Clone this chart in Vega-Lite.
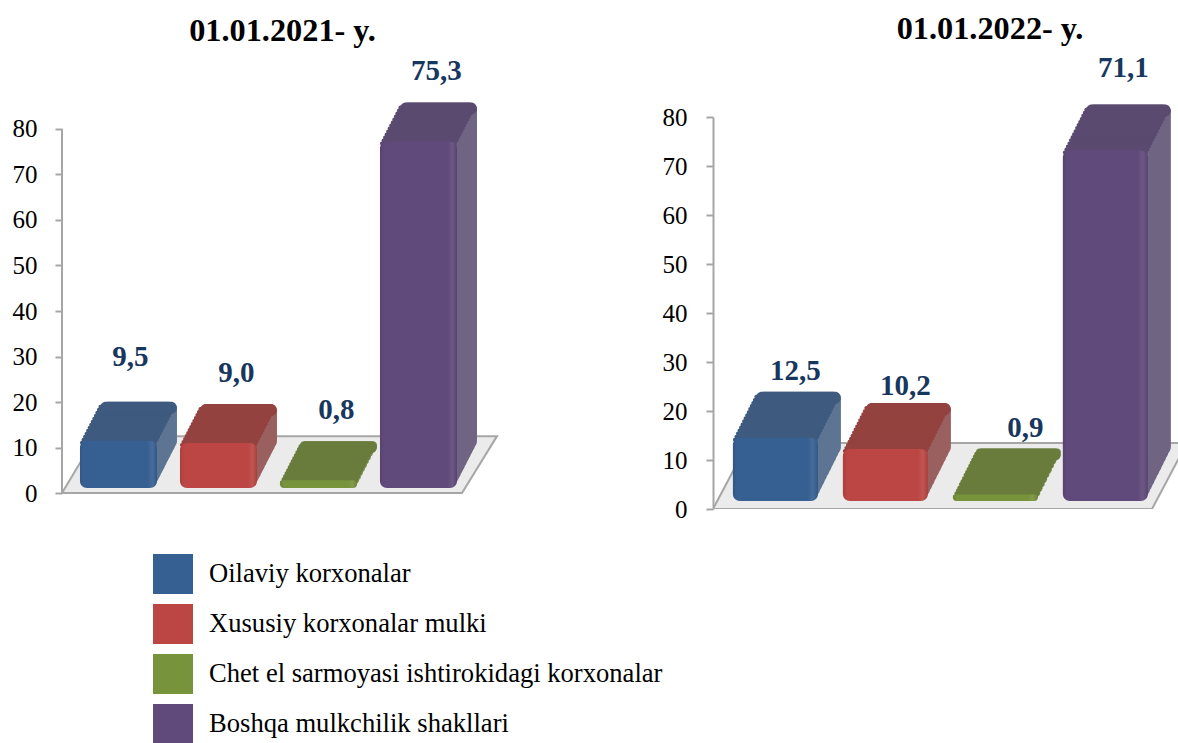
{"$schema":"https://vega.github.io/schema/vega-lite/v6.json","padding":{"left":12,"top":13,"right":0,"bottom":0},"background":"white","config":{"view":{"stroke":null},"font":"Liberation Serif"},"spacing":161,
"hconcat":[
{"width":435,"height":392,"title":{"text":"01.01.2021- y.","font":"Liberation Serif","fontSize":32.3,"fontWeight":"bold","color":"#000000","dx":3,"offset":10},
"data":{"values":[{"k":"Oilaviy korxonalar","v":9.5,"t":"9,5"},{"k":"Xususiy korxonalar mulki","v":9.0,"t":"9,0"},{"k":"Chet el sarmoyasi ishtirokidagi korxonalar","v":0.8,"t":"0,8"},{"k":"Boshqa mulkchilik shakllari","v":75.3,"t":"75,3"}]},
"layer":[
{"data":{"values":[{"fx":0,"a":0,"b":0},{"fx":34,"a":12.5,"b":0},{"fx":400,"a":12.5,"b":0},{"fx":435,"a":12.5,"b":12.5}]},
"layer":[
{"mark":{"type":"area","fill":"#ebebeb","stroke":"#a6a6a6","strokeWidth":2},"encoding":{"x":{"field":"fx","type":"quantitative","axis":null,"scale":{"domain":[0,435],"nice":false}},"y":{"field":"a","type":"quantitative","scale":{"domain":[-3.516,82.637],"nice":false},"axis":{"values":[0,10,20,30,40,50,60,70,80],"title":null,"grid":false,"domain":false,"tickColor":"#a6a6a6","tickWidth":2,"tickSize":7,"labelFontSize":25,"labelColor":"#000000","labelFont":"Liberation Serif","labelPadding":18}},"y2":{"field":"b"}}},
{"mark":{"type":"rule","color":"#a6a6a6","strokeWidth":2},"encoding":{"x":{"datum":0},"y":{"datum":0},"y2":{"datum":80}}}
]},
{"encoding":{"x":{"field":"k","type":"nominal","sort":null,"axis":null,"scale":{"domain":["Oilaviy korxonalar","Xususiy korxonalar mulki","Chet el sarmoyasi ishtirokidagi korxonalar","Boshqa mulkchilik shakllari"],"paddingInner":0.23,"paddingOuter":0.29,"align":0.31}},"y":{"field":"v","type":"quantitative"}},
"resolve":{"scale":{"fill":"independent"}},
"layer":[
{"encoding":{"y2":{"datum":0},"fill":{"field":"k","type":"nominal","legend":null,"scale":{"domain":["Oilaviy korxonalar","Xususiy korxonalar mulki","Chet el sarmoyasi ishtirokidagi korxonalar","Boshqa mulkchilik shakllari"],"range":["#5d7493","#9a6060","#7a8f55","#6f6482"]}}},
"layer":[
{"mark":{"type":"bar","cornerRadius":8,"xOffset":2,"x2Offset":2,"yOffset":-12.9,"y2Offset":-8.9}},
{"mark":{"type":"bar","cornerRadius":8,"xOffset":4,"x2Offset":4,"yOffset":-16.8,"y2Offset":-12.8}},
{"mark":{"type":"bar","cornerRadius":8,"xOffset":6,"x2Offset":6,"yOffset":-20.7,"y2Offset":-16.7}},
{"mark":{"type":"bar","cornerRadius":8,"xOffset":8,"x2Offset":8,"yOffset":-24.6,"y2Offset":-20.6}},
{"mark":{"type":"bar","cornerRadius":8,"xOffset":10,"x2Offset":10,"yOffset":-28.5,"y2Offset":-24.5}},
{"mark":{"type":"bar","cornerRadius":8,"xOffset":12,"x2Offset":12,"yOffset":-32.4,"y2Offset":-28.4}},
{"mark":{"type":"bar","cornerRadius":8,"xOffset":14,"x2Offset":14,"yOffset":-36.3,"y2Offset":-32.3}},
{"mark":{"type":"bar","cornerRadius":8,"xOffset":16,"x2Offset":16,"yOffset":-40.2,"y2Offset":-36.2}},
{"mark":{"type":"bar","cornerRadius":8,"xOffset":18,"x2Offset":18,"yOffset":-44.1,"y2Offset":-40.1}},
{"mark":{"type":"bar","cornerRadius":8,"xOffset":20,"x2Offset":20,"yOffset":-48,"y2Offset":-44}}
]},
{"encoding":{"y2":{"field":"v"},"fill":{"field":"k","type":"nominal","legend":null,"scale":{"domain":["Oilaviy korxonalar","Xususiy korxonalar mulki","Chet el sarmoyasi ishtirokidagi korxonalar","Boshqa mulkchilik shakllari"],"range":["#3e5a7f","#94423f","#6a7c3c","#5a4a70"]}}},
"layer":[
{"mark":{"type":"bar","cornerRadius":2,"xOffset":0,"x2Offset":0,"yOffset":-9,"y2Offset":-5}},
{"mark":{"type":"bar","cornerRadius":2,"xOffset":1.54,"x2Offset":1.54,"yOffset":-12,"y2Offset":-8}},
{"mark":{"type":"bar","cornerRadius":2,"xOffset":3.08,"x2Offset":3.08,"yOffset":-15,"y2Offset":-11}},
{"mark":{"type":"bar","cornerRadius":2,"xOffset":4.62,"x2Offset":4.62,"yOffset":-18,"y2Offset":-14}},
{"mark":{"type":"bar","cornerRadius":2,"xOffset":6.15,"x2Offset":6.15,"yOffset":-21,"y2Offset":-17}},
{"mark":{"type":"bar","cornerRadius":2,"xOffset":7.69,"x2Offset":7.69,"yOffset":-24,"y2Offset":-20}},
{"mark":{"type":"bar","cornerRadius":2,"xOffset":9.23,"x2Offset":9.23,"yOffset":-27,"y2Offset":-23}},
{"mark":{"type":"bar","cornerRadius":2,"xOffset":10.77,"x2Offset":10.77,"yOffset":-30,"y2Offset":-26}},
{"mark":{"type":"bar","cornerRadius":2,"xOffset":12.31,"x2Offset":12.31,"yOffset":-33,"y2Offset":-29}},
{"mark":{"type":"bar","cornerRadius":2,"xOffset":13.85,"x2Offset":13.85,"yOffset":-36,"y2Offset":-32}},
{"mark":{"type":"bar","cornerRadius":2,"xOffset":15.38,"x2Offset":15.38,"yOffset":-39,"y2Offset":-35}},
{"mark":{"type":"bar","cornerRadius":2,"xOffset":16.92,"x2Offset":16.92,"yOffset":-42,"y2Offset":-38}},
{"mark":{"type":"bar","cornerRadius":2,"xOffset":18.46,"x2Offset":18.46,"yOffset":-45,"y2Offset":-41}},
{"mark":{"type":"bar","cornerRadius":6,"xOffset":20,"x2Offset":20,"yOffset":-48,"y2Offset":-36}}
]},
{"mark":{"type":"bar","cornerRadius":7,"yOffset":-9,"y2Offset":-5},"encoding":{"y2":{"datum":0},"color":{"field":"k","type":"nominal","sort":null,"title":null,"scale":{"domain":["Oilaviy korxonalar","Xususiy korxonalar mulki","Chet el sarmoyasi ishtirokidagi korxonalar","Boshqa mulkchilik shakllari"],"range":["#376092","#bb4643","#77933c","#604a7b"]},"legend":{"orient":"none","legendX":91,"legendY":437,"symbolType":"square","symbolSize":1600,"symbolStrokeWidth":0,"labelFontSize":26.6,"labelFont":"Liberation Serif","labelColor":"#000000","labelOffset":16,"rowPadding":10,"labelLimit":600}}}},
{"mark":{"type":"bar","cornerRadius":7,"yOffset":-9,"y2Offset":-5,"color":{"gradient":"linear","x1":0,"y1":0,"x2":1,"y2":0,"stops":[{"offset":0,"color":"rgba(0,0,0,0.1)"},{"offset":0.05,"color":"rgba(0,0,0,0)"},{"offset":0.88,"color":"rgba(255,255,255,0)"},{"offset":0.94,"color":"rgba(255,255,255,0.08)"},{"offset":1,"color":"rgba(0,0,0,0.1)"}]}},"encoding":{"y2":{"datum":0}}},
{"transform":[{"filter":"datum.v==9.5"}],"mark":{"type":"text","dx":12,"dy":-93,"font":"Liberation Serif","fontSize":29,"fontWeight":"bold","color":"#17375e"},"encoding":{"text":{"field":"t"}}},
{"transform":[{"filter":"datum.v!=9.5"}],"mark":{"type":"text","dx":18,"dy":-79,"font":"Liberation Serif","fontSize":29,"fontWeight":"bold","color":"#17375e"},"encoding":{"text":{"field":"t"}}}
]}
],"resolve":{"scale":{"x":"independent"}}},
{"width":466,"height":392,"title":{"text":"01.01.2022- y.","font":"Liberation Serif","fontSize":32.3,"fontWeight":"bold","color":"#000000","dx":44,"offset":8},
"data":{"values":[{"k":"Oilaviy korxonalar","v":12.5,"t":"12,5"},{"k":"Xususiy korxonalar mulki","v":10.2,"t":"10,2"},{"k":"Chet el sarmoyasi ishtirokidagi korxonalar","v":0.9,"t":"0,9"},{"k":"Boshqa mulkchilik shakllari","v":71.1,"t":"71,1"}]},
"layer":[
{"data":{"values":[{"fx":0,"a":0,"b":0},{"fx":35,"a":13.47,"b":0},{"fx":439,"a":13.47,"b":0},{"fx":474,"a":13.47,"b":13.47}]},"mark":{"type":"area","fill":"#ebebeb","stroke":"#a6a6a6","strokeWidth":2,"clip":true},"encoding":{"x":{"field":"fx","type":"quantitative","axis":null,"scale":{"domain":[0,466],"nice":false}},"y":{"field":"a","type":"quantitative","scale":{"domain":[0,80],"nice":false},"axis":{"values":[0,10,20,30,40,50,60,70,80],"title":null,"grid":false,"domainColor":"#a6a6a6","domainWidth":2,"tickColor":"#a6a6a6","tickWidth":2,"tickSize":7,"labelFontSize":25,"labelColor":"#000000","labelFont":"Liberation Serif","labelPadding":19}},"y2":{"field":"b"}}},
{"encoding":{"x":{"field":"k","type":"nominal","sort":null,"axis":null,"scale":{"domain":["Oilaviy korxonalar","Xususiy korxonalar mulki","Chet el sarmoyasi ishtirokidagi korxonalar","Boshqa mulkchilik shakllari"],"paddingInner":0.227,"paddingOuter":0.232,"align":0.39}},"y":{"field":"v","type":"quantitative"}},
"resolve":{"scale":{"fill":"independent"}},
"layer":[
{"encoding":{"y2":{"datum":0},"fill":{"field":"k","type":"nominal","legend":null,"scale":{"domain":["Oilaviy korxonalar","Xususiy korxonalar mulki","Chet el sarmoyasi ishtirokidagi korxonalar","Boshqa mulkchilik shakllari"],"range":["#5d7493","#9a6060","#7a8f55","#6f6482"]}}},
"layer":[
{"mark":{"type":"bar","cornerRadius":8,"xOffset":2.3,"x2Offset":2.3,"yOffset":-14.6,"y2Offset":-12.6}},
{"mark":{"type":"bar","cornerRadius":8,"xOffset":4.6,"x2Offset":4.6,"yOffset":-19.2,"y2Offset":-17.2}},
{"mark":{"type":"bar","cornerRadius":8,"xOffset":6.9,"x2Offset":6.9,"yOffset":-23.8,"y2Offset":-21.8}},
{"mark":{"type":"bar","cornerRadius":8,"xOffset":9.2,"x2Offset":9.2,"yOffset":-28.4,"y2Offset":-26.4}},
{"mark":{"type":"bar","cornerRadius":8,"xOffset":11.5,"x2Offset":11.5,"yOffset":-33,"y2Offset":-31}},
{"mark":{"type":"bar","cornerRadius":8,"xOffset":13.8,"x2Offset":13.8,"yOffset":-37.6,"y2Offset":-35.6}},
{"mark":{"type":"bar","cornerRadius":8,"xOffset":16.1,"x2Offset":16.1,"yOffset":-42.2,"y2Offset":-40.2}},
{"mark":{"type":"bar","cornerRadius":8,"xOffset":18.4,"x2Offset":18.4,"yOffset":-46.8,"y2Offset":-44.8}},
{"mark":{"type":"bar","cornerRadius":8,"xOffset":20.7,"x2Offset":20.7,"yOffset":-51.4,"y2Offset":-49.4}},
{"mark":{"type":"bar","cornerRadius":8,"xOffset":23,"x2Offset":23,"yOffset":-56,"y2Offset":-54}}
]},
{"encoding":{"y2":{"field":"v"},"fill":{"field":"k","type":"nominal","legend":null,"scale":{"domain":["Oilaviy korxonalar","Xususiy korxonalar mulki","Chet el sarmoyasi ishtirokidagi korxonalar","Boshqa mulkchilik shakllari"],"range":["#3e5a7f","#94423f","#6a7c3c","#5a4a70"]}}},
"layer":[
{"mark":{"type":"bar","cornerRadius":2,"xOffset":0,"x2Offset":0,"yOffset":-10,"y2Offset":-6}},
{"mark":{"type":"bar","cornerRadius":2,"xOffset":1.53,"x2Offset":1.53,"yOffset":-13.07,"y2Offset":-9.07}},
{"mark":{"type":"bar","cornerRadius":2,"xOffset":3.07,"x2Offset":3.07,"yOffset":-16.13,"y2Offset":-12.13}},
{"mark":{"type":"bar","cornerRadius":2,"xOffset":4.6,"x2Offset":4.6,"yOffset":-19.2,"y2Offset":-15.2}},
{"mark":{"type":"bar","cornerRadius":2,"xOffset":6.13,"x2Offset":6.13,"yOffset":-22.27,"y2Offset":-18.27}},
{"mark":{"type":"bar","cornerRadius":2,"xOffset":7.67,"x2Offset":7.67,"yOffset":-25.33,"y2Offset":-21.33}},
{"mark":{"type":"bar","cornerRadius":2,"xOffset":9.2,"x2Offset":9.2,"yOffset":-28.4,"y2Offset":-24.4}},
{"mark":{"type":"bar","cornerRadius":2,"xOffset":10.73,"x2Offset":10.73,"yOffset":-31.47,"y2Offset":-27.47}},
{"mark":{"type":"bar","cornerRadius":2,"xOffset":12.27,"x2Offset":12.27,"yOffset":-34.53,"y2Offset":-30.53}},
{"mark":{"type":"bar","cornerRadius":2,"xOffset":13.8,"x2Offset":13.8,"yOffset":-37.6,"y2Offset":-33.6}},
{"mark":{"type":"bar","cornerRadius":2,"xOffset":15.33,"x2Offset":15.33,"yOffset":-40.67,"y2Offset":-36.67}},
{"mark":{"type":"bar","cornerRadius":2,"xOffset":16.87,"x2Offset":16.87,"yOffset":-43.73,"y2Offset":-39.73}},
{"mark":{"type":"bar","cornerRadius":2,"xOffset":18.4,"x2Offset":18.4,"yOffset":-46.8,"y2Offset":-42.8}},
{"mark":{"type":"bar","cornerRadius":2,"xOffset":19.93,"x2Offset":19.93,"yOffset":-49.87,"y2Offset":-45.87}},
{"mark":{"type":"bar","cornerRadius":2,"xOffset":21.47,"x2Offset":21.47,"yOffset":-52.93,"y2Offset":-48.93}},
{"mark":{"type":"bar","cornerRadius":6,"xOffset":23,"x2Offset":23,"yOffset":-56,"y2Offset":-44}}
]},
{"mark":{"type":"bar","cornerRadius":7,"yOffset":-10,"y2Offset":-8},"encoding":{"y2":{"datum":0},"color":{"field":"k","type":"nominal","sort":null,"title":null,"scale":{"domain":["Oilaviy korxonalar","Xususiy korxonalar mulki","Chet el sarmoyasi ishtirokidagi korxonalar","Boshqa mulkchilik shakllari"],"range":["#376092","#bb4643","#77933c","#604a7b"]}}}},
{"mark":{"type":"bar","cornerRadius":7,"yOffset":-10,"y2Offset":-8,"color":{"gradient":"linear","x1":0,"y1":0,"x2":1,"y2":0,"stops":[{"offset":0,"color":"rgba(0,0,0,0.1)"},{"offset":0.05,"color":"rgba(0,0,0,0)"},{"offset":0.88,"color":"rgba(255,255,255,0)"},{"offset":0.94,"color":"rgba(255,255,255,0.08)"},{"offset":1,"color":"rgba(0,0,0,0.1)"}]}},"encoding":{"y2":{"datum":0}}},
{"transform":[{"filter":"datum.v==12.5"}],"mark":{"type":"text","dx":20,"dy":-77,"font":"Liberation Serif","fontSize":29,"fontWeight":"bold","color":"#17375e"},"encoding":{"text":{"field":"t"}}},
{"transform":[{"filter":"datum.v==10.2"}],"mark":{"type":"text","dx":20,"dy":-73,"font":"Liberation Serif","fontSize":29,"fontWeight":"bold","color":"#17375e"},"encoding":{"text":{"field":"t"}}},
{"transform":[{"filter":"datum.v==0.9"}],"mark":{"type":"text","dx":30,"dy":-77,"font":"Liberation Serif","fontSize":29,"fontWeight":"bold","color":"#17375e"},"encoding":{"text":{"field":"t"}}},
{"transform":[{"filter":"datum.v==71.1"}],"mark":{"type":"text","dx":18,"dy":-93,"font":"Liberation Serif","fontSize":29,"fontWeight":"bold","color":"#17375e"},"encoding":{"text":{"field":"t"}}}
]}
],"resolve":{"scale":{"x":"independent"}}}
]}
